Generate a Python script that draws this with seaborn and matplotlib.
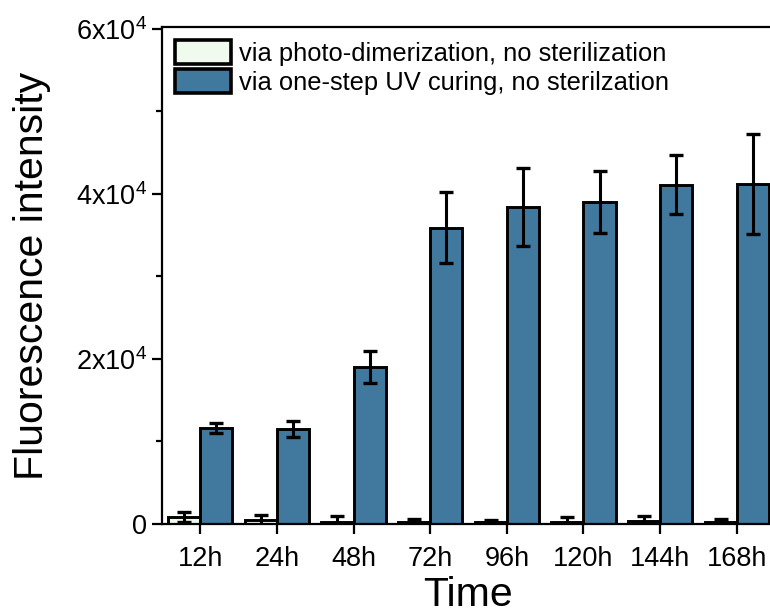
import numpy as np
import pandas as pd
import matplotlib
matplotlib.use("Agg")
import matplotlib.pyplot as plt
from matplotlib.patches import Patch
from matplotlib.ticker import MultipleLocator
import seaborn as sns

# data
times = ["12h", "24h", "48h", "72h", "96h", "120h", "144h", "168h"]
groups = ["via photo-dimerization, no sterilization",
          "via one-step UV curing, no sterilzation"]
photo_mean = [850, 500, 300, 200, 250, 300, 400, 250]
photo_err = [650, 600, 700, 450, 250, 550, 600, 350]
uv_mean = [11600, 11500, 19000, 35900, 38400, 39000, 41100, 41200]
uv_err = [600, 1000, 1900, 4300, 4700, 3700, 3600, 6100]

colors = ["#F1FAEE", "#41789E"]

df = pd.DataFrame({
    "Time": times * 2,
    "group": [groups[0]] * len(times) + [groups[1]] * len(times),
    "value": photo_mean + uv_mean,
})

sns.set_style("ticks")
plt.rcParams["font.family"] = ["Liberation Sans", "DejaVu Sans"]
plt.rcParams["mathtext.default"] = "regular"
plt.rcParams["text.color"] = "black"
plt.rcParams["axes.labelcolor"] = "black"
plt.rcParams["xtick.color"] = "black"
plt.rcParams["ytick.color"] = "black"
plt.rcParams["axes.edgecolor"] = "black"

fig = plt.figure(figsize=(7.7, 6.16), dpi=100)
ax = fig.add_axes([162 / 770, 1 - 524 / 616, 613 / 770, 497 / 616])

sns.barplot(data=df, x="Time", y="value", hue="group", hue_order=groups,
            palette=colors, width=0.84, errorbar=None, edgecolor="black",
            linewidth=2.1, saturation=1, legend=False, ax=ax)

# error bars on top of each bar
for cont, m, e in zip(ax.containers, [photo_mean, uv_mean], [photo_err, uv_err]):
    xs = [b.get_x() + b.get_width() / 2 for b in cont]
    ax.errorbar(xs, m, yerr=e, fmt="none", ecolor="black", elinewidth=2.2,
                capsize=4.7, capthick=2.4, zorder=5)

ax.set_xlim(-0.5, 7.5)
ax.set_ylim(0, 60200)
ax.set_yticks([0, 20000, 40000, 60000])
ax.set_yticklabels(["0", r"2x10$^4$", r"4x10$^4$", r"6x10$^4$"])
ax.yaxis.set_minor_locator(MultipleLocator(10000))

for s in ["left", "bottom", "top"]:
    ax.spines[s].set_linewidth(1.6)
ax.spines["right"].set_visible(False)
ax.tick_params(axis="both", which="major", direction="out", length=7,
               width=1.6, labelsize=19.5)
ax.tick_params(axis="y", which="minor", direction="out", length=4, width=1.6)
ax.tick_params(axis="x", pad=9)
ax.tick_params(axis="y", pad=4)

ax.set_xlabel("Time", fontsize=29.5, labelpad=3)
ax.set_ylabel("Fluorescence intensity", fontsize=29.5, labelpad=18)

handles = [Patch(facecolor=c, edgecolor="black", linewidth=2.6) for c in colors]
ax.legend(handles, groups, loc="upper left", bbox_to_anchor=(0.0, 1.0),
          frameon=False, fontsize=18.4, handlelength=2.2, handleheight=1.1,
          handletextpad=0.3, labelspacing=0.12, borderaxespad=0.3,
          borderpad=0.2)

fig.savefig("out.png", dpi=100)
